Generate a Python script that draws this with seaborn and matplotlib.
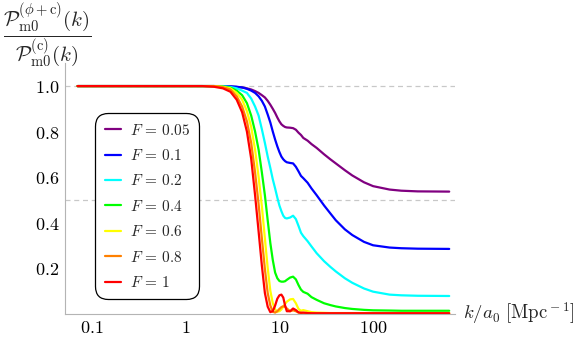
import numpy as np
import pandas as pd
import seaborn as sns
import matplotlib.pyplot as plt
from matplotlib.lines import Line2D
from matplotlib.ticker import FixedLocator, FixedFormatter, MultipleLocator, LogLocator, NullFormatter

# wavenumber grid k/a0 [Mpc^-1]
k = [0.07, 0.5, 1, 1.5, 2, 2.5, 3, 3.5, 4, 4.5, 5, 5.5, 6, 6.5, 7, 7.5, 8, 8.5, 9,
     9.5, 10, 10.5, 11, 11.5, 12, 13, 14, 15, 16, 17, 18, 20, 22, 25, 30, 35, 40,
     50, 60, 80, 100, 150, 200, 300, 650]

F_labels = ["0.05", "0.1", "0.2", "0.4", "0.6", "0.8", "1"]
colors = ["#800080", "#0000ff", "#00ffff", "#00ff00", "#ffff00", "#ff8000", "#ff0000"]

ratio_F005 = [1, 1, 1, 1, 1, 0.999, 0.998, 0.996, 0.994, 0.99, 0.985, 0.978, 0.97, 0.96,
              0.95, 0.935, 0.918, 0.9, 0.882, 0.862, 0.845, 0.832, 0.825, 0.82, 0.818,
              0.817, 0.815, 0.808, 0.795, 0.785, 0.772, 0.76, 0.745, 0.728, 0.7, 0.678,
              0.66, 0.63, 0.607, 0.577, 0.56, 0.545, 0.54, 0.537, 0.536]
ratio_F01 = [1, 1, 1, 1, 1, 1, 0.999, 0.997, 0.994, 0.988, 0.98, 0.97, 0.955, 0.935,
             0.91, 0.875, 0.84, 0.8, 0.765, 0.735, 0.71, 0.69, 0.678, 0.67, 0.665,
             0.662, 0.66, 0.645, 0.625, 0.605, 0.595, 0.575, 0.55, 0.52, 0.475, 0.44,
             0.41, 0.37, 0.345, 0.315, 0.3, 0.29, 0.287, 0.285, 0.284]
ratio_F02 = [1, 1, 1, 1, 1, 0.999, 0.996, 0.99, 0.98, 0.97, 0.945, 0.91, 0.87, 0.81,
             0.75, 0.69, 0.64, 0.59, 0.55, 0.51, 0.475, 0.45, 0.43, 0.42, 0.418,
             0.422, 0.43, 0.415, 0.385, 0.355, 0.34, 0.318, 0.295, 0.265, 0.23, 0.205,
             0.185, 0.155, 0.135, 0.11, 0.096, 0.083, 0.08, 0.078, 0.077]
ratio_F04 = [1, 1, 1, 1, 1, 0.998, 0.993, 0.98, 0.96, 0.925, 0.87, 0.8, 0.72, 0.62,
             0.52, 0.41, 0.31, 0.235, 0.18, 0.155, 0.143, 0.14, 0.14, 0.142, 0.148,
             0.158, 0.162, 0.15, 0.125, 0.105, 0.095, 0.087, 0.072, 0.06, 0.045, 0.037,
             0.031, 0.024, 0.02, 0.016, 0.014, 0.013, 0.012, 0.012, 0.012]
ratio_F06 = [1, 1, 1, 1, 1, 0.997, 0.99, 0.97, 0.94, 0.89, 0.82, 0.72, 0.6, 0.47,
             0.33, 0.2, 0.1, 0.045, 0.018, 0.008, 0.01, 0.018, 0.03, 0.042, 0.052,
             0.062, 0.064, 0.045, 0.02, 0.012, 0.015, 0.01, 0.006, 0.004, 0.003, 0.002,
             0.002, 0.002, 0.002, 0.002, 0.002, 0.002, 0.002, 0.002, 0.002]
ratio_F08 = [1, 1, 1, 1, 1, 0.995, 0.985, 0.955, 0.91, 0.845, 0.75, 0.62, 0.48, 0.33,
             0.195, 0.09, 0.035, 0.008, 0.004, 0.01, 0.02, 0.028, 0.032, 0.03, 0.022,
             0.01, 0.014, 0.01, 0.004, 0.003, 0.002, 0.001, 0.001, 0.001, 0.001, 0.001,
             0.001, 0.001, 0.001, 0.001, 0.001, 0.001, 0.001, 0.001, 0.001]
ratio_F1 = [1, 1, 1, 1, 0.997, 0.99, 0.975, 0.94, 0.885, 0.8, 0.68, 0.52, 0.36, 0.21,
            0.09, 0.03, 0.006, 0.01, 0.035, 0.065, 0.08, 0.083, 0.07, 0.035, 0.01,
            0.01, 0.022, 0.015, 0.005, 0.003, 0.004, 0.002, 0.001, 0.001, 0.001, 0.001,
            0.001, 0.001, 0.001, 0.001, 0.001, 0.001, 0.001, 0.001, 0.001]

series = [ratio_F005, ratio_F01, ratio_F02, ratio_F04, ratio_F06, ratio_F08, ratio_F1]

rows = []
for f, vals in zip(F_labels, series):
    for kk, v in zip(k, vals):
        rows.append({"k": kk, "ratio": v, "F": f})
df = pd.DataFrame(rows)

sns.set_style("white")
plt.rcParams["mathtext.fontset"] = "cm"

fig = plt.figure(figsize=(5.81, 3.43), dpi=100)
ax = fig.add_axes([0.112, 0.086, 0.671, 0.730])

ax.axhline(1.0, color="#c8c8c8", lw=0.9, dashes=(4, 3), zorder=0)
ax.axhline(0.5, color="#c8c8c8", lw=0.9, dashes=(4, 3), zorder=0)

sns.lineplot(data=df, x="k", y="ratio", hue="F", hue_order=F_labels,
             palette=colors, lw=1.6, ax=ax, legend=False,
             estimator=None, sort=False)

ax.set_xscale("log")
ax.set_xlim(0.0515, 748)
ax.set_ylim(0, 1.101)
ax.set_xlabel("")
ax.set_ylabel("")

for s in ["top", "right"]:
    ax.spines[s].set_visible(False)
for s in ["left", "bottom"]:
    ax.spines[s].set_color("#b4b4b4")
    ax.spines[s].set_linewidth(0.8)

xt = [0.1, 1, 10, 100]
ax.xaxis.set_major_locator(FixedLocator(xt))
ax.xaxis.set_major_formatter(FixedFormatter([r"$0.1$", r"$1$", r"$10$", r"$100$"]))
ax.xaxis.set_minor_locator(LogLocator(base=10, subs=np.arange(2, 10)))
ax.xaxis.set_minor_formatter(NullFormatter())

yt = [0.2, 0.4, 0.6, 0.8, 1.0]
ax.yaxis.set_major_locator(FixedLocator(yt))
ax.yaxis.set_major_formatter(FixedFormatter([r"$0.2$", r"$0.4$", r"$0.6$", r"$0.8$", r"$1.0$"]))
ax.yaxis.set_minor_locator(MultipleLocator(0.05))

ax.tick_params(which="both", direction="in", color="#b4b4b4", width=0.8,
               labelsize=13, labelcolor="black")
ax.tick_params(which="major", length=4, pad=4)
ax.tick_params(which="minor", length=2.5)

handles = [Line2D([0], [0], color=c, lw=1.6) for c in colors]
labels = [rf"$F\,=\,{f}$" for f in F_labels]
leg = ax.legend(handles, labels, loc="upper left", bbox_to_anchor=(0.077, 0.80),
                borderaxespad=0, frameon=True, fontsize=11, handlelength=1.1,
                handletextpad=0.55, labelspacing=0.68, borderpad=0.62, framealpha=1)
frame = leg.get_frame()
frame.set_edgecolor("black")
frame.set_linewidth(0.9)
frame.set_boxstyle("round,pad=0,rounding_size=0.85")

fig.text(0.005, 0.995,
         r"$\dfrac{\mathcal{P}_{\rm m0}^{(\phi+{\rm c})}(k)}{\mathcal{P}_{\rm m0}^{({\rm c})}(k)}$",
         ha="left", va="top", fontsize=15)
ax.text(1.02, 0, r"$k/a_0\ [{\rm Mpc}^{\rm -1}]$", transform=ax.transAxes,
        ha="left", va="center", fontsize=13.5)

fig.savefig("out.png", dpi=100)
